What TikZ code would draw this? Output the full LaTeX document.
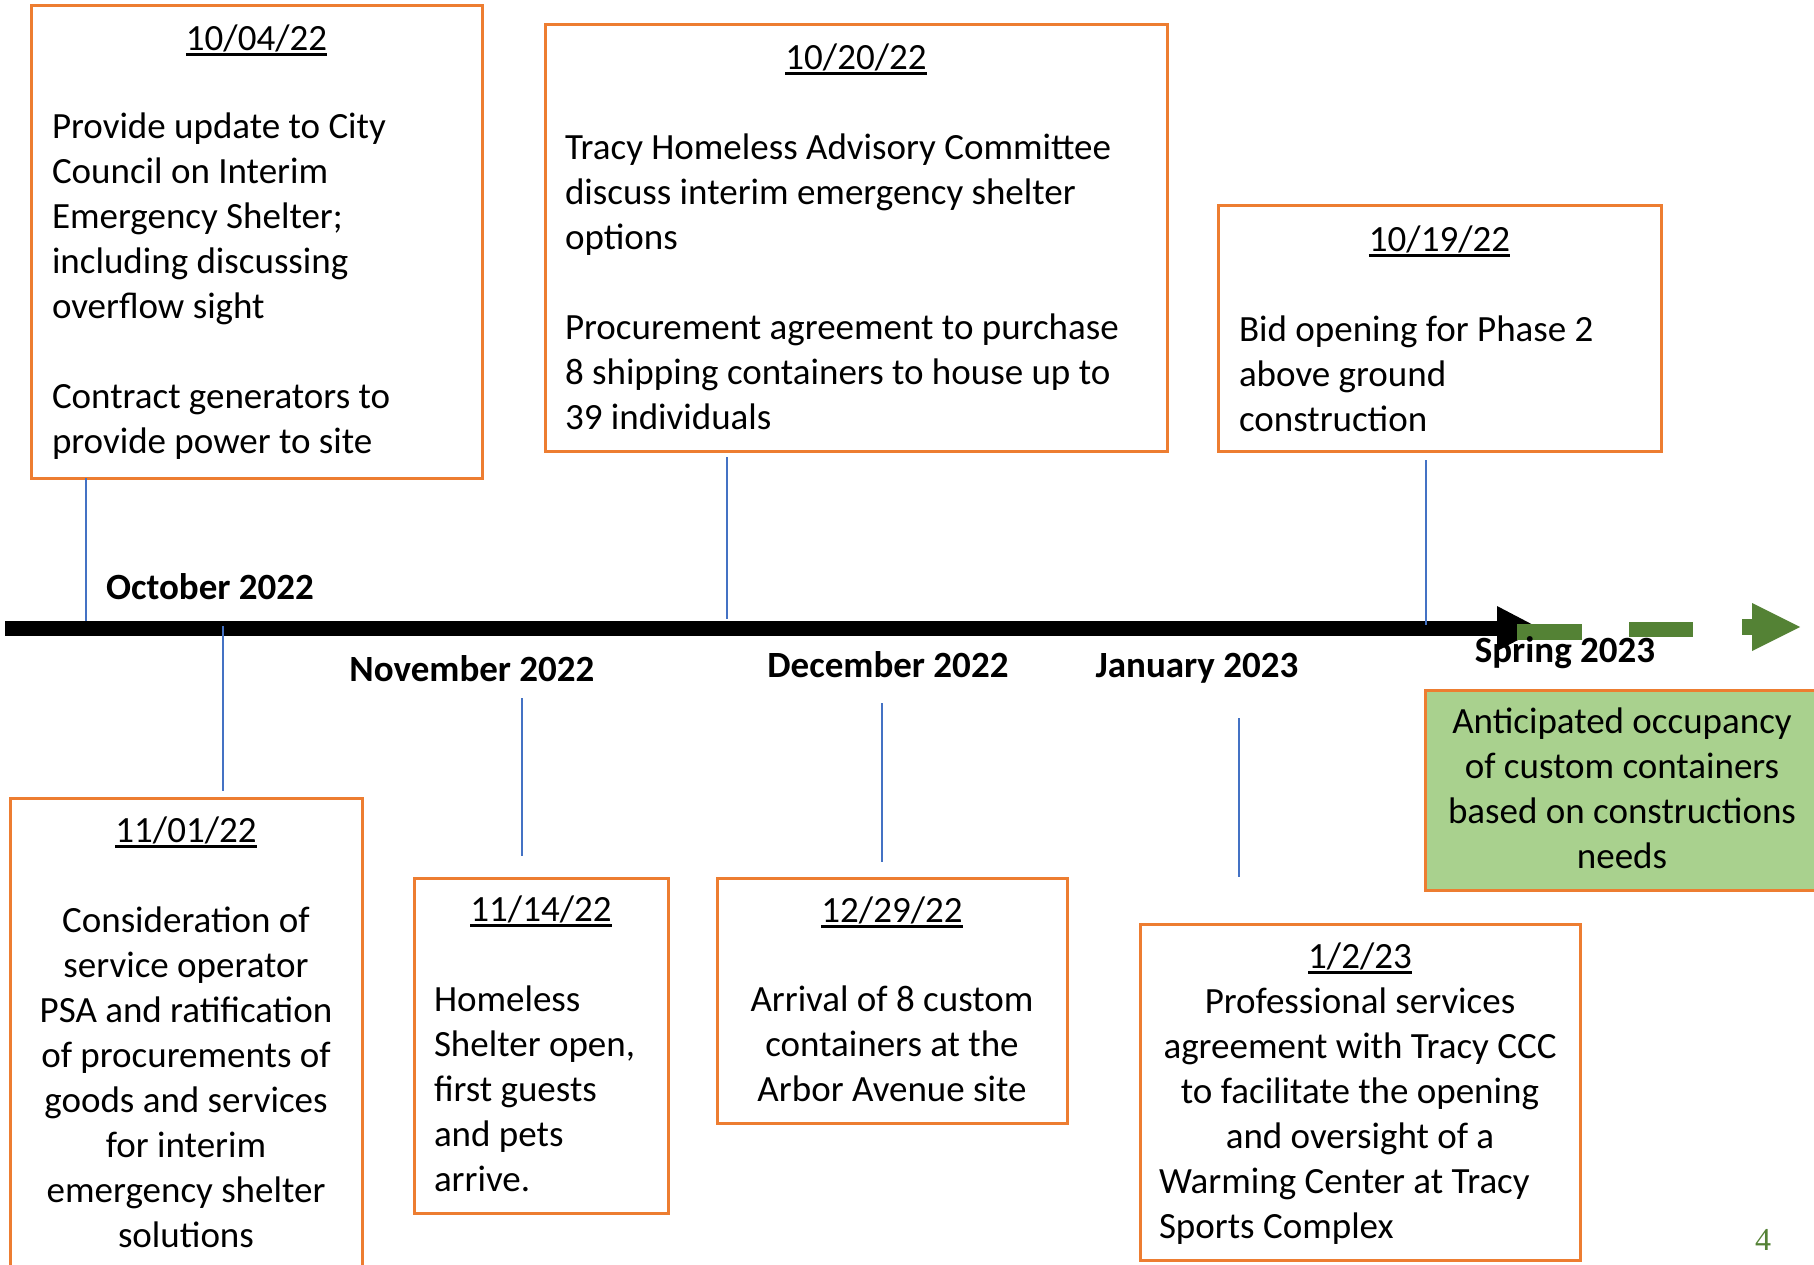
\documentclass[tikz,border=0pt]{standalone}
\usepackage{fontspec}
\setmainfont{Carlito}
\newfontfamily\pgnum{Liberation Serif}
\definecolor{borange}{RGB}{237,125,49}
\definecolor{lgreen}{RGB}{169,209,142}
\definecolor{dgreen}{RGB}{84,130,53}
\definecolor{lblue}{RGB}{68,114,196}
\newcommand\Lcol[1]{\vtop{\baselineskip=22.5pt\lineskiplimit=-\maxdimen\lineskip=0pt\halign{##\hfil\cr#1\crcr}}}
\newcommand\Ccol[1]{\vtop{\baselineskip=22.5pt\lineskiplimit=-\maxdimen\lineskip=0pt\halign{\hfil##\hfil\cr#1\crcr}}}
\newsavebox\ulbox
\newcommand\uline[1]{\sbox\ulbox{#1}\rlap{\rule[-3pt]{\wd\ulbox}{1.3pt}}\usebox\ulbox}
\begin{document}
\begin{tikzpicture}[x=0.5pt,y=-0.5pt,
  every node/.style={font=\fontsize{18.5pt}{22.5pt}\selectfont, inner sep=0pt, outer sep=0pt},
  box/.style={draw=borange, line width=1.5pt},
  month/.style={font=\fontsize{18.5pt}{22.5pt}\selectfont\bfseries, anchor=base},
  conn/.style={draw=lblue, line width=0.7pt}]
\useasboundingbox (0,0) rectangle (1814,1264);
\fill[white] (0,0) rectangle (1814,1264);
% timeline
\fill[black] (5,621) rectangle (1499,636);
\fill[black] (1497,606) -- (1540,628.5) -- (1497,651) -- cycle;
\fill[dgreen] (1517,624) rectangle (1582,640);
\fill[dgreen] (1629,622) rectangle (1693,637);
\fill[dgreen] (1742,619) rectangle (1754,635);
\fill[dgreen] (1752,603) -- (1800,627) -- (1752,651) -- cycle;
% boxes
\node[box, minimum width=225.5pt, minimum height=236.5pt] (b1) at (256.5,241.5) {};
\node[box, minimum width=311pt, minimum height=213.5pt] (b2) at (856,237.5) {};
\node[box, minimum width=221.5pt, minimum height=123pt] (b3) at (1439.5,328) {};
\node[box, minimum width=176pt, minimum height=240pt] (b4) at (186,1038) {};
\node[box, minimum width=127pt, minimum height=167.5pt] (b5) at (541,1045.5) {};
\node[box, minimum width=175pt, minimum height=122.5pt] (b6) at (892,1000.5) {};
\node[box, minimum width=220pt, minimum height=168pt] (b7) at (1360,1092) {};
\node[box, fill=lgreen, minimum width=202.5pt, minimum height=100pt] (bg) at (1627.5,790) {};
% connectors
\coordinate (e1) at (86,621);
\draw[conn] (b1.south -| e1) -- (e1);
\coordinate (s2) at (727,457); \coordinate (e2) at (727,619);
\draw[conn] (s2) -- (e2);
\coordinate (s3) at (1426,460); \coordinate (e3) at (1426,625);
\draw[conn] (s3) -- (e3);
\coordinate (s4) at (223,626); \coordinate (e4) at (223,791);
\draw[conn] (s4) -- (e4);
\coordinate (s5) at (522,698); \coordinate (e5) at (522,856);
\draw[conn] (s5) -- (e5);
\coordinate (s6) at (882,703); \coordinate (e6) at (882,862);
\draw[conn] (s6) -- (e6);
\coordinate (s7) at (1239,718); \coordinate (e7) at (1239,877);
\draw[conn] (s7) -- (e7);
% texts
\node[anchor=base] (d1) at (256.5,50) {\uline{10/04/22}};
\node[anchor=base west] (t1) at (52,138) {\Lcol{Provide update to City\cr Council on Interim\cr Emergency Shelter;\cr including discussing\cr overflow sight\cr\cr Contract generators to\cr provide power to site}};
\node[anchor=base] (d2) at (856,69) {\uline{10/20/22}};
\node[anchor=base west] (t2) at (565,159) {\Lcol{Tracy Homeless Advisory Committee\cr discuss interim emergency shelter\cr options\cr\cr Procurement agreement to purchase\cr 8 shipping containers to house up to\cr 39 individuals}};
\node[anchor=base] (d3) at (1439.5,251) {\uline{10/19/22}};
\node[anchor=base west] (t3) at (1239,341) {\Lcol{Bid opening for Phase 2\cr above ground\cr construction}};
\node[anchor=base] (d4) at (186,842) {\uline{11/01/22}};
\node[anchor=base] (t4) at (186,932) {\Ccol{Consideration of\cr service operator\cr PSA and ratification\cr of procurements of\cr goods and services\cr for interim\cr emergency shelter\cr solutions}};
\node[anchor=base] (d5) at (541,921) {\uline{11/14/22}};
\node[anchor=base west] (t5) at (434,1011) {\Lcol{Homeless\cr Shelter open,\cr first guests\cr and pets\cr arrive.}};
\node[anchor=base] (d6) at (892,922) {\uline{12/29/22}};
\node[anchor=base] (t6) at (892,1011) {\Ccol{Arrival of 8 custom\cr containers at the\cr Arbor Avenue site}};
\node[anchor=base] (d7) at (1360,968) {\uline{1/2/23}};
\node[anchor=base] (t7a) at (1360,1013) {\Ccol{Professional services\cr agreement with Tracy CCC\cr to facilitate the opening\cr and oversight of a}};
\node[anchor=base west] (t7b) at (1159,1193) {\Lcol{Warming Center at Tracy\cr Sports Complex}};
\node[anchor=base] (tg) at (1622,733) {\Ccol{Anticipated occupancy\cr of custom containers\cr based on constructions\cr needs}};
% months
\node[month] (m1) at (210,599) {October 2022};
\node[month] (m2) at (472,681) {November 2022};
\node[month] (m3) at (888,677) {December 2022};
\node[month] (m4) at (1197,677) {January 2023};
\node[month] (m5) at (1565,662) {Spring 2023};
% page number
\node[font=\pgnum\fontsize{16pt}{18pt}\selectfont, text=dgreen, anchor=base] (pg) at (1763,1250) {4};
\end{tikzpicture}
\end{document}
